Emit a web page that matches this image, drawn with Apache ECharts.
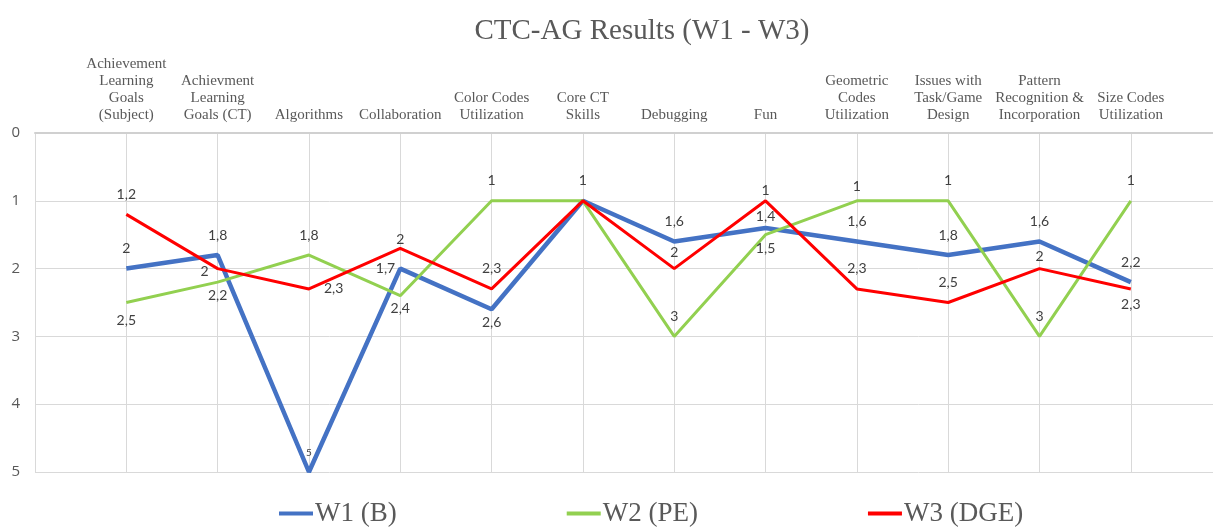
<!DOCTYPE html>
<html>
<head>
<meta charset="utf-8">
<script src="https://cdn.jsdelivr.net/npm/echarts@6/dist/echarts.min.js"></script>
<style>
  html, body { margin: 0; padding: 0; background: #fff; }
  #grafico { width: 1213px; height: 527px; }
</style>
</head>
<body>
<div id="grafico"></div>
<script>
// categorias (eje superior)
var categorias = [
  'Achievement\nLearning\nGoals\n(Subject)',
  'Achievment\nLearning\nGoals (CT)',
  'Algorithms',
  'Collaboration',
  'Color Codes\nUtilization',
  'Core CT\nSkills',
  'Debugging',
  'Fun',
  'Geometric\nCodes\nUtilization',
  'Issues with\nTask/Game\nDesign',
  'Pattern\nRecognition &\nIncorporation',
  'Size Codes\nUtilization'
];

var nombresSeries = ['W1 (B)', 'W2 (PE)', 'W3 (DGE)'];
var valoresW1 = [2, 1.8, 5, 2, 2.6, 1, 1.6, 1.4, 1.6, 1.8, 1.6, 2.2];
var valoresW2 = [2.5, 2.2, 1.8, 2.4, 1, 1, 3, 1.5, 1, 1, 3, 1];
var valoresW3 = [1.2, 2, 2.3, 1.7, 2.3, 1, 2, 1, 2.3, 2.5, 2, 2.3];

var coloresSeries = ['#4472C4', '#92D050', '#FF0000'];
var anchosSeries = [4.5, 3, 3];

// ajustes de etiquetas por punto (solo estilo)
var etiquetasW1 = {
  2: { fontSize: 10, distance: 14 },
  3: { distance: 22 },
  4: { position: 'bottom', distance: 6 },
  5: { show: false },
  7: { distance: 4 }
};
var etiquetasW2 = {
  0: { position: 'bottom', distance: 11 },
  1: { position: 'bottom', distance: 6 },
  3: { position: 'bottom', distance: 6 },
  7: { position: 'bottom', distance: 7 },
  8: { distance: 7 }
};
var etiquetasW3 = {
  1: { position: 'left', distance: 9, offset: [0, 3] },
  2: { position: 'right', distance: 15 },
  3: { position: 'left', distance: 5, offset: [0, 20] },
  5: { show: false },
  6: { distance: 9 },
  7: { distance: 3 },
  10: { distance: 5 },
  11: { position: 'bottom', distance: 8 }
};

function armarDatos(valores, ajustes){
  return valores.map(function(v, i){
    var punto = { value: [i, v] };
    if (ajustes[i]) punto.label = ajustes[i];
    return punto;
  });
}

function armarSerie(idx, valores, ajustes){
  return {
    name: nombresSeries[idx],
    type: 'line',
    data: armarDatos(valores, ajustes),
    showSymbol: true,
    symbol: 'circle',
    symbolSize: 0.1,
    lineStyle: { color: coloresSeries[idx], width: anchosSeries[idx] },
    itemStyle: { color: coloresSeries[idx] },
    label: {
      show: true,
      position: 'top',
      distance: 13,
      fontFamily: 'Lato',
      fontSize: 14,
      color: '#404040',
      formatter: function(p){ return String(p.value[1]).replace('.', ','); }
    },
    emphasis: { disabled: true }
  };
}

var myChart = echarts.init(document.getElementById('grafico'));
myChart.setOption({
  animation: false,
  title: {
    text: 'CTC-AG Results (W1 - W3)',
    left: 637,
    textAlign: 'center',
    top: 12,
    textStyle: { fontFamily: 'Liberation Serif', fontSize: 29, fontWeight: 'normal', color: '#595959' }
  },
  legend: {
    data: nombresSeries,
    left: 274,
    top: 495,
    itemGap: 170,
    itemWidth: 34,
    itemHeight: 4,
    icon: 'rect',
    textStyle: { fontFamily: 'Liberation Serif', fontSize: 27, color: '#595959', padding: [0, 0, 0, -3] }
  },
  grid: { left: 35, right: 0, top: 133, bottom: 55 },
  xAxis: {
    type: 'value',
    position: 'top',
    min: -1,
    max: 11.9,
    interval: 1,
    axisLine: { show: true, onZero: false, lineStyle: { color: '#d0d0d0', width: 2 } },
    axisTick: { show: false },
    splitLine: { show: true, lineStyle: { color: '#d9d9d9', width: 1 } },
    axisLabel: {
      margin: 9,
      fontFamily: 'Liberation Serif',
      fontSize: 15,
      lineHeight: 17,
      color: '#595959',
      align: 'center',
      showMaxLabel: false,
      formatter: function(v){
        return (Number.isInteger(v) && v >= 0 && v < categorias.length) ? categorias[v] : '';
      }
    }
  },
  yAxis: {
    type: 'value',
    inverse: true,
    min: 0,
    max: 5,
    interval: 1,
    axisLine: { show: false },
    axisTick: { show: false },
    splitLine: { show: true, lineStyle: { color: '#d9d9d9', width: 1 } },
    axisLabel: { margin: 15, fontFamily: 'Open Sans', fontSize: 15, color: '#595959' }
  },
  series: [
    armarSerie(0, valoresW1, etiquetasW1),
    armarSerie(1, valoresW2, etiquetasW2),
    armarSerie(2, valoresW3, etiquetasW3)
  ]
});
</script>
</body>
</html>
